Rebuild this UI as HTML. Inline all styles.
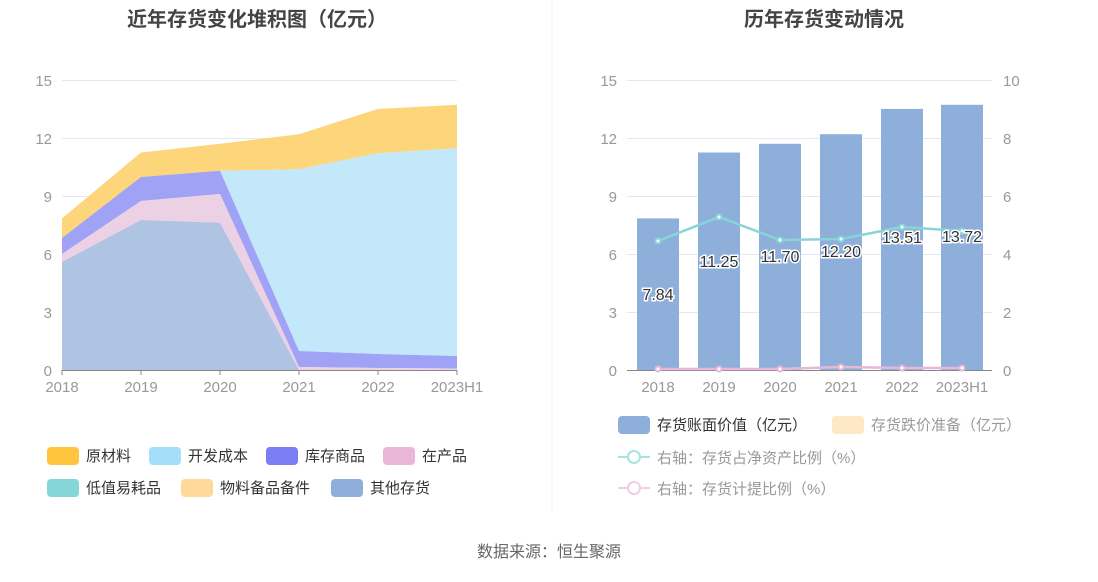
<!DOCTYPE html>
<html><head><meta charset="utf-8"><style>
body{margin:0;background:#fff;}
text{font-family:"Liberation Sans","Noto Sans CJK SC",sans-serif;}
</style></head><body>
<svg width="1098" height="577" viewBox="0 0 1098 577" xmlns="http://www.w3.org/2000/svg">
<rect width="1098" height="577" fill="#fff"/>
<line x1="552" y1="0" x2="552" y2="510" stroke="#eef0f4" stroke-width="1"/>
<text x="257" y="26" font-size="20" font-weight="bold" fill="#444" text-anchor="middle">近年存货变化堆积图（亿元）</text>
<text x="824" y="26" font-size="20" font-weight="bold" fill="#444" text-anchor="middle">历年存货变动情况</text>
<!-- left grid -->
<g stroke="#e3e8f5" stroke-width="1">
<line x1="62" y1="80.5" x2="457" y2="80.5"/><line x1="62" y1="138.5" x2="457" y2="138.5"/>
<line x1="62" y1="196.5" x2="457" y2="196.5"/><line x1="62" y1="254.5" x2="457" y2="254.5"/>
<line x1="62" y1="312.5" x2="457" y2="312.5"/>
</g>
<g font-size="15" fill="#999" text-anchor="end">
<text x="52" y="86">15</text><text x="52" y="144">12</text><text x="52" y="202">9</text>
<text x="52" y="260">6</text><text x="52" y="318">3</text><text x="52" y="376">0</text>
</g>
<!-- areas -->
<polygon fill="#fdd57a" points="62,218.4 141,152.5 220,143.8 299,134.2 378,108.9 457,104.8 457,148.3 378,153.3 299,169.3 220,170.7 141,177 62,238"/>
<polygon fill="#c3e8fa" points="220,170.7 299,169.3 378,153.3 457,148.3 457,356 378,354 299,351"/>
<polygon fill="#a0a2f6" points="62,238 141,177 220,170.7 299,351 378,354 457,356 457,368.5 378,368 299,367 220,194 141,201 62,254"/>
<polygon fill="#ecd0e3" points="62,254 141,201 220,194 299,367 378,368 457,368.5 457,370 299,370 220,222.7 141,220 62,262"/>
<polygon fill="#afc3e3" points="62,262 141,220 220,222.7 299,370 62,370"/>
<line x1="62" y1="370.5" x2="457" y2="370.5" stroke="#888"/>
<g stroke="#888"><line x1="62" y1="370" x2="62" y2="375"/><line x1="141" y1="370" x2="141" y2="375"/><line x1="220" y1="370" x2="220" y2="375"/><line x1="299" y1="370" x2="299" y2="375"/><line x1="378" y1="370" x2="378" y2="375"/><line x1="457" y1="370" x2="457" y2="375"/></g>
<g font-size="15" fill="#999" text-anchor="middle">
<text x="62" y="392">2018</text><text x="141" y="392">2019</text><text x="220" y="392">2020</text>
<text x="299" y="392">2021</text><text x="378" y="392">2022</text><text x="457" y="392">2023H1</text>
</g>
<!-- left legend -->
<g font-size="15" fill="#333">
<rect x="47" y="447" width="32" height="18" rx="4" fill="#ffc53d"/><text x="86" y="461">原材料</text>
<rect x="149" y="447" width="32" height="18" rx="4" fill="#a5def9"/><text x="188" y="461">开发成本</text>
<rect x="266" y="447" width="32" height="18" rx="4" fill="#7b7df5"/><text x="305" y="461">库存商品</text>
<rect x="383" y="447" width="32" height="18" rx="4" fill="#e8b6d6"/><text x="422" y="461">在产品</text>
<rect x="47" y="479" width="32" height="18" rx="4" fill="#86d6d8"/><text x="86" y="493">低值易耗品</text>
<rect x="181" y="479" width="32" height="18" rx="4" fill="#ffd99a"/><text x="220" y="493">物料备品备件</text>
<rect x="331" y="479" width="32" height="18" rx="4" fill="#8fafdb"/><text x="370" y="493">其他存货</text>
</g>
<!-- right chart -->
<g stroke="#e3e8f5" stroke-width="1">
<line x1="627" y1="80.5" x2="992" y2="80.5"/><line x1="627" y1="138.5" x2="992" y2="138.5"/>
<line x1="627" y1="196.5" x2="992" y2="196.5"/><line x1="627" y1="254.5" x2="992" y2="254.5"/>
<line x1="627" y1="312.5" x2="992" y2="312.5"/>
</g>
<g font-size="15" fill="#999" text-anchor="end">
<text x="617" y="86">15</text><text x="617" y="144">12</text><text x="617" y="202">9</text>
<text x="617" y="260">6</text><text x="617" y="318">3</text><text x="617" y="376">0</text>
</g>
<g font-size="15" fill="#999" text-anchor="start">
<text x="1003" y="86">10</text><text x="1003" y="144">8</text><text x="1003" y="202">6</text>
<text x="1003" y="260">4</text><text x="1003" y="318">2</text><text x="1003" y="376">0</text>
</g>
<g fill="#8fafdb">
<rect x="637" y="218.4" width="42" height="151.6"/>
<rect x="698" y="152.5" width="42" height="217.5"/>
<rect x="759" y="143.8" width="42" height="226.2"/>
<rect x="820" y="134.2" width="42" height="235.8"/>
<rect x="881" y="108.9" width="42" height="261.1"/>
<rect x="941" y="104.8" width="42" height="265.2"/>
</g>
<line x1="627" y1="370.5" x2="992" y2="370.5" stroke="#888"/>
<g font-size="15" fill="#999" text-anchor="middle">
<text x="658" y="392">2018</text><text x="719" y="392">2019</text><text x="780" y="392">2020</text>
<text x="841" y="392">2021</text><text x="902" y="392">2022</text><text x="962" y="392">2023H1</text>
</g>
<polyline fill="none" stroke="#86d6d8" stroke-width="2.5" points="658,241 719,217 780,240 841,239 902,227 962,231"/>
<g fill="#fff" stroke="#86d6d8" stroke-width="2"><circle cx="658" cy="241" r="2.5"/><circle cx="719" cy="217" r="2.5"/><circle cx="780" cy="240" r="2.5"/><circle cx="841" cy="239" r="2.5"/><circle cx="902" cy="227" r="2.5"/><circle cx="962" cy="231" r="2.5"/></g>
<polyline fill="none" stroke="#e8b6d6" stroke-width="2.5" points="658,369 719,369 780,369 841,367 902,368 962,368"/>
<g fill="#fff" stroke="#e8b6d6" stroke-width="2"><circle cx="658" cy="369" r="2.5"/><circle cx="719" cy="369" r="2.5"/><circle cx="780" cy="369" r="2.5"/><circle cx="841" cy="367" r="2.5"/><circle cx="902" cy="368" r="2.5"/><circle cx="962" cy="368" r="2.5"/></g>
<g font-size="16" fill="#333" text-anchor="middle" stroke="#fff" stroke-width="3" paint-order="stroke">
<text x="658" y="300">7.84</text><text x="719" y="267">11.25</text><text x="780" y="262">11.70</text>
<text x="841" y="257">12.20</text><text x="902" y="243">13.51</text><text x="962" y="242">13.72</text>
</g>
<!-- right legend -->
<g font-size="15">
<rect x="618" y="416" width="32" height="18" rx="4" fill="#8fafdb"/><text x="657" y="430" fill="#333">存货账面价值（亿元）</text>
<rect x="832" y="416" width="32" height="18" rx="4" fill="#ffe8c4"/><text x="871" y="430" fill="#999">存货跌价准备（亿元）</text>
<line x1="618" y1="457" x2="650" y2="457" stroke="#a8e3e4" stroke-width="2"/><circle cx="634" cy="457" r="6" fill="#fff" stroke="#a8e3e4" stroke-width="2"/>
<text x="657" y="463" fill="#999">右轴：存货占净资产比例（%）</text>
<line x1="618" y1="488" x2="650" y2="488" stroke="#f0cde3" stroke-width="2"/><circle cx="634" cy="488" r="6" fill="#fff" stroke="#f0cde3" stroke-width="2"/>
<text x="657" y="494" fill="#999">右轴：存货计提比例（%）</text>
</g>
<text x="549" y="557" font-size="16" fill="#666" text-anchor="middle">数据来源：恒生聚源</text>
</svg>
</body></html>
